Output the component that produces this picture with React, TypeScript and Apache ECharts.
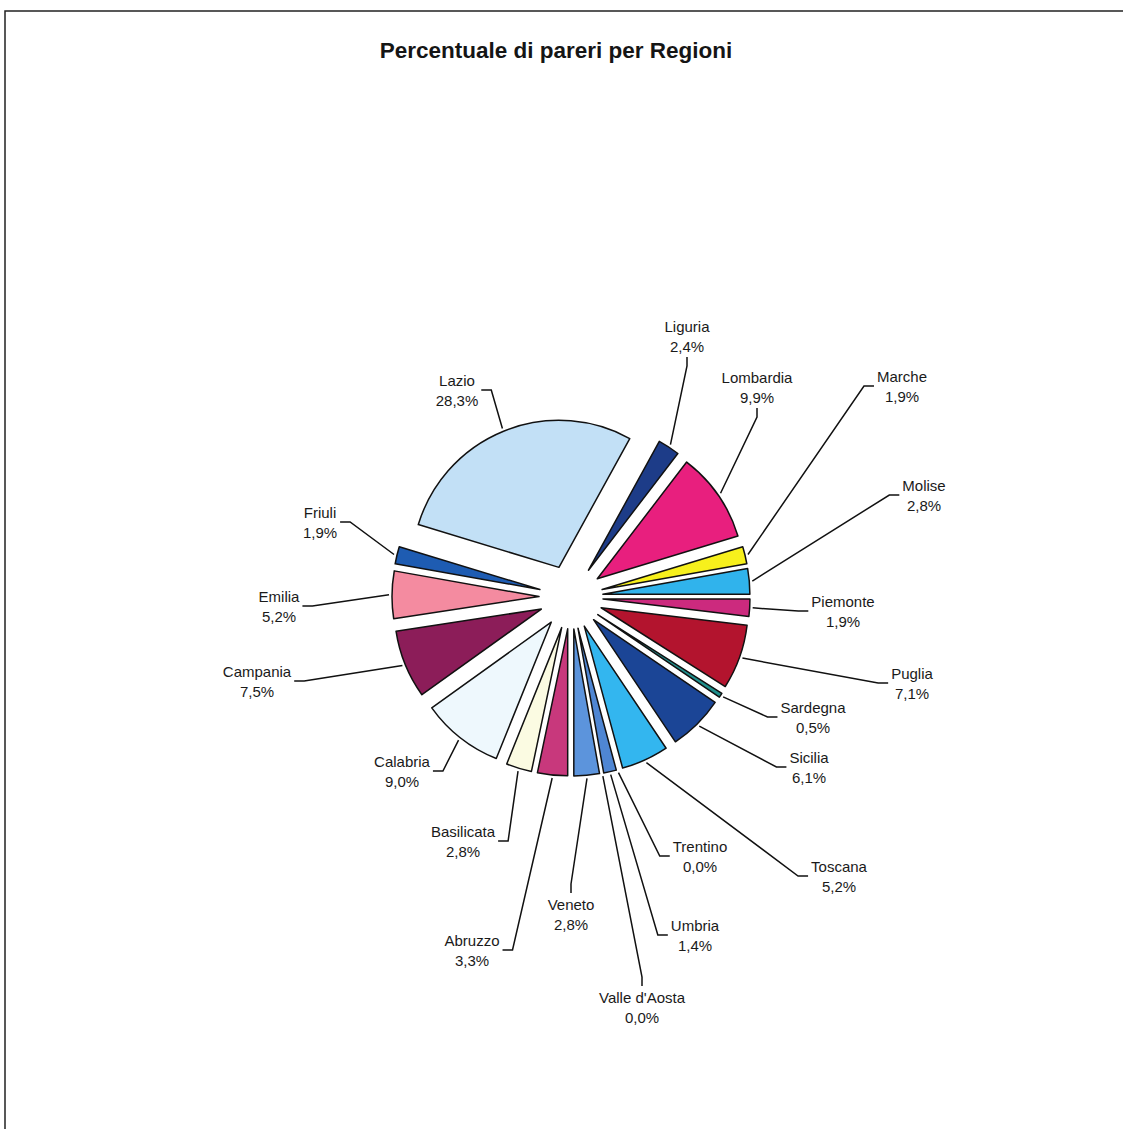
import { useEffect, useRef } from 'react';
import * as echarts from 'echarts';

// Regions in data order (alphabetical), share of opinions in percent
const regions = [
  'Abruzzo', 'Basilicata', 'Calabria', 'Campania', 'Emilia', 'Friuli', 'Lazio',
  'Liguria', 'Lombardia', 'Marche', 'Molise', 'Piemonte', 'Puglia', 'Sardegna',
  'Sicilia', 'Toscana', 'Trentino', 'Umbria', "Valle d'Aosta", 'Veneto',
];
const shares = [
  3.3, 2.8, 9.0, 7.5, 5.2, 1.9, 28.3,
  2.4, 9.9, 1.9, 2.8, 1.9, 7.1, 0.5,
  6.1, 5.2, 0.0, 1.4, 0.0, 2.8,
];
const sliceColors = [
  '#c8387c', '#fbfbe2', '#eef8fd', '#8c1d59', '#f48ba0', '#1e5cb2', '#c2e0f6',
  '#1d3c88', '#e81f7e', '#f7f01c', '#30b3ec', '#cc2a7e', '#b3142e', '#1f8f8c',
  '#1b4596', '#33b6ef', '#7aa6de', '#4f86d3', '#7aa6de', '#5c94dc',
];

// Label block centres, as offsets from the pie centre (layout only)
const labelSpots: [number, number][] = [
  [-99, 353], [-108, 244], [-169, 174], [-314, 84], [-292, 9], [-251, -75], [-114, -207],
  [116, -261], [186, -210], [331, -211], [353, -102], [272, 14], [341, 86], [242, 120],
  [238, 170], [268, 279], [129, 259], [124, 338], [71, 410], [0, 317],
];

const CX = 571;
const CY = 597;
const RADIUS = 147;
const EXPLODE = 32;
const START_ANGLE = -90; // first slice starts at six o'clock

const total = shares.reduce((a, b) => a + b, 0);
// mid angle of each slice, degrees clockwise from twelve o'clock
const midAngles = (() => {
  let acc = 0;
  return shares.map((v) => {
    const m = 90 - START_ANGLE + ((acc + v / 2) / total) * 360;
    acc += v;
    return m;
  });
})();

const fmt = (v: number) => v.toFixed(1).replace('.', ',') + '%';

const FONT = 'Arial, "Liberation Sans", Helvetica, sans-serif';

const pieBase = {
  type: 'pie',
  center: [CX, CY],
  radius: RADIUS,
  startAngle: START_ANGLE,
  clockwise: true,
  avoidLabelOverlap: false,
  emphasis: { disabled: true },
};

function buildOption() {
  return {
    animation: false,
    backgroundColor: '#ffffff',
    title: {
      text: 'Percentuale di pareri per Regioni',
      left: 556,
      top: 39,
      textAlign: 'center',
      padding: 0,
      textStyle: { fontFamily: FONT, fontSize: 22.5, fontWeight: 'bold', color: '#151515' },
    },
    graphic: [
      {
        type: 'rect',
        silent: true,
        shape: { x: 5, y: 11, width: 1150, height: 1150 },
        style: { fill: 'none', stroke: '#222', lineWidth: 1.5 },
      },
    ],
    series: [
      {
        // exploded slices
        ...pieBase,
        name: 'slices',
        selectedMode: 'multiple',
        selectedOffset: EXPLODE,
        itemStyle: { borderColor: '#111', borderWidth: 1.5 },
        select: { itemStyle: { borderColor: '#111', borderWidth: 1.5 } },
        label: { show: false },
        labelLine: { show: false },
        data: regions.map((name, i) => ({
          name,
          value: shares[i],
          selected: true,
          itemStyle: { color: sliceColors[i], borderWidth: shares[i] === 0 ? 0 : 1.5 },
          select: { itemStyle: { color: sliceColors[i], borderWidth: shares[i] === 0 ? 0 : 1.5 } },
        })),
      },
      {
        // data labels with leader lines
        ...pieBase,
        name: 'labels',
        silent: true,
        selectedMode: false,
        itemStyle: { color: 'rgba(0,0,0,0)', borderWidth: 0 },
        data: regions.map((name, i) => ({ name, value: shares[i] })),
        label: {
          show: true,
          position: 'outside',
          formatter: (p: any) => `${p.name}\n${fmt(p.value)}`,
          fontFamily: FONT,
          fontSize: 15,
          lineHeight: 20,
          color: '#1a1a1a',
        },
        labelLine: {
          show: true,
          smooth: false,
          lineStyle: { color: '#111', width: 1.5 },
        },
        labelLayout: (params: any) => {
          const i = params.dataIndex;
          const th = (midAngles[i] * Math.PI) / 180;
          const ux = Math.sin(th);
          const uy = -Math.cos(th);
          const er = RADIUS + EXPLODE + 3;
          const ex = CX + er * ux;
          const ey = CY + er * uy;
          const lx = CX + labelSpots[i][0];
          const ly = CY + labelSpots[i][1];
          const w = params.labelRect.width;
          const h = params.labelRect.height;
          let pts: number[][];
          if (Math.abs(lx - ex) < w / 2 + 6) {
            const d = ly < ey ? 1 : -1;
            const ay = ly + d * (h / 2 + 1);
            pts = [[ex, ey], [lx, ay + d * 9], [lx, ay]];
          } else {
            const s = lx > ex ? 1 : -1;
            const ax = lx - s * (w / 2 + 3);
            pts = [[ex, ey], [ax - s * 10, ly], [ax, ly]];
          }
          return {
            x: lx,
            y: ly,
            align: 'center',
            verticalAlign: 'middle',
            hideOverlap: false,
            labelLinePoints: pts,
          };
        },
      },
    ],
  };
}

export default function App() {
  const ref = useRef<HTMLDivElement>(null);
  useEffect(() => {
    if (!ref.current) return;
    const chart = echarts.init(ref.current, null, { renderer: 'svg' });
    chart.setOption(buildOption() as any);
    return () => chart.dispose();
  }, []);
  return (
    <div
      ref={ref}
      style={{ position: 'absolute', left: 0, top: 0, width: 1123, height: 1129, background: '#fff' }}
    />
  );
}
